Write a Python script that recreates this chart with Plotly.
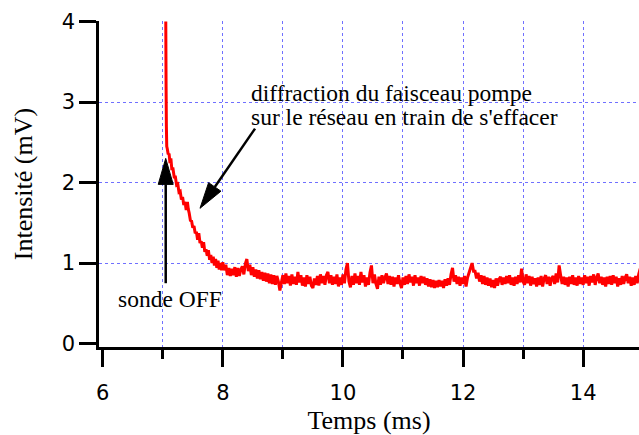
import math
import plotly.graph_objects as go

# Fast part of the recorded signal: time (ms) and intensity (mV)
t_decay_ms = [
    7.050, 7.055, 7.060, 7.066, 7.075, 7.090, 7.105, 7.120, 7.135, 7.150,
    7.170, 7.190, 7.210, 7.230, 7.250, 7.270, 7.290, 7.310, 7.330, 7.350,
    7.370, 7.390, 7.410, 7.425, 7.440, 7.460, 7.480, 7.500, 7.520, 7.540,
    7.560, 7.580, 7.600, 7.620, 7.640, 7.660, 7.680, 7.700, 7.720, 7.740,
    7.760, 7.780, 7.800, 7.820, 7.840, 7.860, 7.880, 7.900, 7.920, 7.940,
    7.960, 7.980,
]
decay_mV = [
    4.00, 3.20, 2.70, 2.45, 2.42, 2.35, 2.36, 2.24, 2.30, 2.17,
    2.17, 2.07, 2.07, 1.97, 1.98, 1.88, 1.89, 1.79, 1.82, 1.72,
    1.76, 1.66, 1.76, 1.67, 1.62, 1.53, 1.52, 1.44, 1.46, 1.37,
    1.39, 1.29, 1.37, 1.25, 1.27, 1.19, 1.26, 1.14, 1.17, 1.09,
    1.16, 1.04, 1.10, 1.00, 1.08, 0.97, 1.05, 0.94, 1.03, 0.92,
    1.00, 0.91,
]

# Slow part, sampled every 0.025 ms from 8.000 ms
SAMPLE_START_MS = 8.0
SAMPLE_STEP_MS = 0.025
baseline_mV = [
    1.01, 0.91, 0.98, 0.85, 0.94, 0.84, 0.93, 0.85, 0.95, 0.83,
    0.94, 0.84, 0.92, 0.96, 0.86, 0.99, 1.05, 0.90, 0.98, 0.85,
    0.95, 0.83, 0.92, 0.81, 0.91, 0.80, 0.89, 0.78, 0.88, 0.77,
    0.87, 0.75, 0.86, 0.74, 0.85, 0.73, 0.84, 0.77, 0.66, 0.76,
    0.85, 0.74, 0.87, 0.75, 0.84, 0.72, 0.86, 0.74, 0.83, 0.73,
    0.89, 0.76, 0.85, 0.72, 0.82, 0.71, 0.85, 0.74, 0.83, 0.72,
    0.69, 0.81, 0.73, 0.84, 0.72, 0.86, 0.75, 0.84, 0.73, 0.85,
    0.89, 0.75, 0.85, 0.73, 0.83, 0.74, 0.86, 0.71, 0.82, 0.73,
    0.86, 0.75, 0.92, 1.00, 0.77, 0.70, 0.84, 0.73, 0.87, 0.75,
    0.84, 0.73, 0.89, 0.76, 0.85, 0.71, 0.82, 0.73, 0.88, 0.97,
    0.75, 0.86, 0.74, 0.68, 0.83, 0.73, 0.85, 0.75, 0.82, 0.87,
    0.74, 0.84, 0.73, 0.83, 0.71, 0.82, 0.74, 0.85, 0.75, 0.69,
    0.82, 0.73, 0.84, 0.74, 0.86, 0.76, 0.83, 0.72, 0.85, 0.75,
    0.82, 0.72, 0.84, 0.75, 0.83, 0.73, 0.81, 0.71, 0.80, 0.70,
    0.79, 0.69, 0.78, 0.70, 0.79, 0.71, 0.78, 0.69, 0.80, 0.72,
    0.81, 0.73, 0.86, 0.94, 0.77, 0.85, 0.74, 0.83, 0.72, 0.82,
    0.74, 0.84, 0.71, 0.82, 0.88, 0.94, 1.00, 0.90, 0.90, 0.81,
    0.88, 0.77, 0.85, 0.74, 0.84, 0.73, 0.82, 0.72, 0.81, 0.70,
    0.79, 0.69, 0.81, 0.72, 0.80, 0.83, 0.73, 0.82, 0.74, 0.84,
    0.75, 0.85, 0.73, 0.82, 0.72, 0.83, 0.74, 0.85, 0.76, 0.93,
    0.77, 0.73, 0.86, 0.75, 0.84, 0.72, 0.83, 0.74, 0.81, 0.71,
    0.82, 0.73, 0.84, 0.71, 0.81, 0.85, 0.74, 0.83, 0.72, 0.81,
    0.84, 0.74, 0.87, 0.76, 0.97, 0.85, 0.74, 0.83, 0.73, 0.82,
    0.71, 0.83, 0.74, 0.85, 0.73, 0.82, 0.72, 0.84, 0.74, 0.82,
    0.73, 0.85, 0.75, 0.83, 0.72, 0.84, 0.76, 0.86, 0.73, 0.82,
    0.87, 0.75, 0.83, 0.73, 0.82, 0.71, 0.83, 0.74, 0.84, 0.73,
    0.85, 0.75, 0.83, 0.71, 0.81, 0.73, 0.84, 0.74, 0.82, 0.86,
    0.75, 0.83, 0.72, 0.82, 0.73, 0.84, 0.75, 0.86, 0.93, 0.90,
]
t_base_ms = [SAMPLE_START_MS + SAMPLE_STEP_MS * i for i in range(len(baseline_mV))]

t_ms = t_decay_ms + t_base_ms
intensity_mV = decay_mV + baseline_mV

x_ticks = [6, 8, 10, 12, 14]
x_minor = [7, 9, 11, 13]
x_grid = [7, 8, 9, 10, 11, 12, 13, 14]
y_ticks = [0, 1, 2, 3, 4]
y_grid = [1, 2, 3, 4]

# Arrows (tail, tip) in data units
probe_arrow = ((7.049, 0.75), (7.049, 2.30))
pump_arrow = ((8.536, 2.67), (7.620, 1.68))

W, H = 639, 435
MARGIN = dict(l=99, r=0, t=21, b=88)
X_RANGE = [5.938, 14.93]
Y_RANGE = [-0.042, 4.006]

GRID_COLOR = "#7070ff"
SERIF = "Liberation Serif, Times New Roman, serif"
SANS = "DejaVu Sans, Verdana, sans-serif"


def arrow_shapes(tail, tip, head_len=26, head_w=15, width=2.5):
    """Shaft + slender filled head, sized in pixels, placed in data coords."""
    sx = (W - MARGIN["l"] - MARGIN["r"]) / (X_RANGE[1] - X_RANGE[0])
    sy = (H - MARGIN["t"] - MARGIN["b"]) / (Y_RANGE[1] - Y_RANGE[0])
    dx = (tip[0] - tail[0]) * sx
    dy = (tip[1] - tail[1]) * sy
    length = math.hypot(dx, dy)
    ux, uy = dx / length, dy / length
    bx, by = -ux * head_len, -uy * head_len
    nx, ny = -uy * head_w / 2, ux * head_w / 2

    def to_data(ox, oy):
        return tip[0] + ox / sx, tip[1] + oy / sy

    base = to_data(bx, by)
    c1 = to_data(bx + nx, by + ny)
    c2 = to_data(bx - nx, by - ny)
    shaft = dict(type="line", xref="x", yref="y",
                 x0=tail[0], y0=tail[1], x1=base[0], y1=base[1],
                 line=dict(color="black", width=width), layer="above")
    head = dict(type="path", xref="x", yref="y",
                path=f"M {tip[0]},{tip[1]} L {c1[0]},{c1[1]} L {c2[0]},{c2[1]} Z",
                fillcolor="black", line=dict(color="black", width=1),
                layer="above")
    return [shaft, head]


fig = go.Figure()
# empty trace that carries the grid-only companion axes
fig.add_trace(go.Scatter(x=[None], y=[None], xaxis="x2", yaxis="y2",
                         mode="lines", hoverinfo="skip", showlegend=False))
fig.add_trace(go.Scatter(
    x=t_ms, y=intensity_mV, mode="lines",
    line=dict(color="#ff0000", width=3, simplify=False),
    hoverinfo="skip", showlegend=False,
))

axis_common = dict(
    showline=True, linecolor="black", linewidth=2.5,
    ticks="outside", tickcolor="black", tickwidth=2.5, ticklen=17,
    showgrid=False, zeroline=False,
    tickfont=dict(family=SANS, size=21, color="black"),
)

grid_common = dict(
    tickmode="array", showticklabels=False, ticks="", showline=False,
    zeroline=False, showgrid=True, gridcolor=GRID_COLOR, gridwidth=1,
    griddash="dot",
)

fig.update_layout(
    width=W, height=H,
    margin=MARGIN,
    paper_bgcolor="white", plot_bgcolor="white",
    xaxis=dict(
        **axis_common,
        range=X_RANGE, tickmode="array", tickvals=x_ticks,
        ticklabelstandoff=8,
        minor=dict(tickmode="array", tickvals=x_minor, ticks="outside",
                   ticklen=9, tickwidth=2.5, tickcolor="black", showgrid=False),
        title=dict(text="Temps (ms)", font=dict(family=SERIF, size=26, color="black"),
                   standoff=8),
    ),
    yaxis=dict(
        **axis_common,
        range=Y_RANGE, tickmode="array", tickvals=y_ticks,
        title=dict(text="Intensité (mV)", font=dict(family=SERIF, size=26, color="black"),
                   standoff=22),
    ),
    xaxis2=dict(overlaying="x", anchor="y2", range=X_RANGE, tickvals=x_grid,
                **grid_common),
    yaxis2=dict(overlaying="y", anchor="x2", range=Y_RANGE, tickvals=y_grid,
                **grid_common),
    shapes=arrow_shapes(*probe_arrow) + arrow_shapes(*pump_arrow),
)

text_font = dict(family=SERIF, size=23.5, color="black")
fig.add_annotation(x=8.436, y=3.118, xref="x", yref="y", xanchor="left",
                   yanchor="middle", showarrow=False, font=text_font,
                   text="diffraction du faisceau pompe")
fig.add_annotation(x=8.436, y=2.808, xref="x", yref="y", xanchor="left",
                   yanchor="middle", showarrow=False, font=text_font,
                   text="sur le réseau en train de s'effacer")
fig.add_annotation(x=6.221, y=0.56, xref="x", yref="y", xanchor="left",
                   yanchor="middle", showarrow=False, font=text_font,
                   text="sonde OFF")

fig.write_html("out.html")
